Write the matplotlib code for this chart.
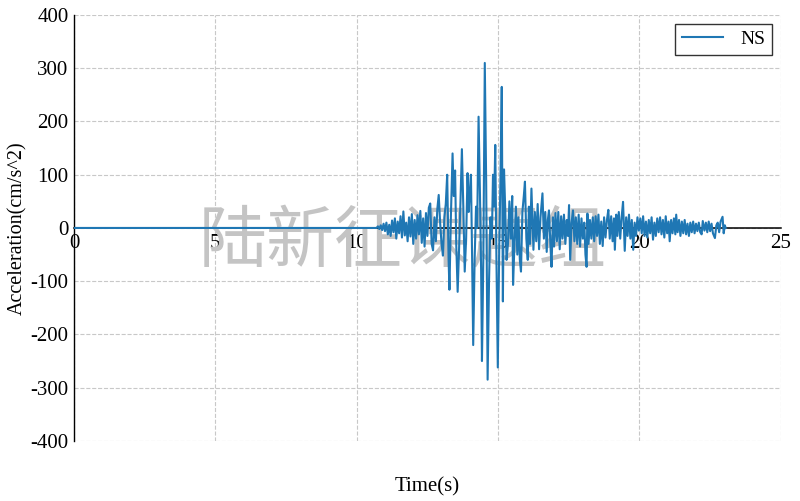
import numpy as np
import matplotlib
matplotlib.use("Agg")
import matplotlib.pyplot as plt

plt.rcParams['font.family'] = ['Liberation Serif', 'DejaVu Serif']
plt.rcParams['axes.unicode_minus'] = False

# acceleration record (time in s, acc in cm/s^2)
time_s = [0.0, 10.70,
    10.75, 10.80, 10.85, 10.90, 10.95, 11.00, 11.05, 11.10, 11.15, 11.20,
    11.25, 11.30, 11.35, 11.40, 11.45, 11.50, 11.55, 11.60, 11.65, 11.70,
    11.75, 11.80, 11.85, 11.90, 11.95, 12.00, 12.05, 12.10, 12.15, 12.20,
    12.25, 12.30, 12.35, 12.40, 12.45, 12.50, 12.55, 12.60, 12.65, 12.70,
    12.75, 12.80, 12.85, 12.90, 12.95, 13.00, 13.05, 13.10, 13.15, 13.20,
    13.25, 13.28, 13.33, 13.39, 13.43, 13.48, 13.52, 13.57, 13.62, 13.67,
    13.72, 13.77, 13.82, 13.87, 13.92, 13.96, 14.00, 14.04, 14.08, 14.12,
    14.17, 14.22, 14.26, 14.31, 14.36, 14.40, 14.43, 14.48, 14.53, 14.58,
    14.63, 14.68, 14.73, 14.78, 14.82, 14.86, 14.90, 14.94, 14.99, 15.04,
    15.08, 15.13, 15.17, 15.21, 15.25, 15.30, 15.35, 15.40, 15.45, 15.50,
    15.53, 15.58, 15.63, 15.68, 15.72, 15.77, 15.81, 15.86, 15.91, 15.95,
    16.00, 16.05, 16.09, 16.13, 16.18, 16.22, 16.25, 16.30, 16.35, 16.40,
    16.45, 16.50, 16.57, 16.62, 16.67, 16.72, 16.76, 16.80, 16.85, 16.89,
    16.94, 16.98, 17.03, 17.08, 17.13, 17.18, 17.23, 17.28, 17.33, 17.38,
    17.43, 17.47, 17.51, 17.55, 17.60, 17.65, 17.70, 17.75, 17.80, 17.85,
    17.90, 17.95, 18.00, 18.05, 18.09, 18.13, 18.16, 18.20, 18.25, 18.30,
    18.35, 18.40, 18.45, 18.50, 18.55, 18.60, 18.65, 18.70, 18.75, 18.80,
    18.85, 18.90, 18.95, 19.00, 19.05, 19.10, 19.13, 19.18, 19.22, 19.27,
    19.32, 19.37, 19.42, 19.46, 19.48, 19.53, 19.58, 19.63, 19.68, 19.73,
    19.78, 19.83, 19.88, 19.93, 19.98, 20.03, 20.08, 20.13, 20.18, 20.23,
    20.28, 20.33, 20.38, 20.43, 20.48, 20.53, 20.58, 20.63, 20.68, 20.73,
    20.78, 20.83, 20.88, 20.93, 20.98, 21.03, 21.07, 21.12, 21.17, 21.22,
    21.27, 21.30, 21.35, 21.40, 21.45, 21.50, 21.55, 21.60, 21.65, 21.70,
    21.75, 21.80, 21.85, 21.90, 21.95, 22.00, 22.05, 22.10, 22.15, 22.20,
    22.24, 22.30, 22.35, 22.40, 22.45, 22.50, 22.55, 22.60, 22.67, 22.72,
    22.77, 22.82, 22.87, 22.94, 22.98, 23.02, 23.05]

acc_ns = [0, 0,
    3, -2, 5, -4, 8, -6, 10, -12, 6, -15,
    14, -8, 18, -20, 12, -10, 22, -18, 31, -14,
    10, -25, 20, -16, 26, -30, 15, -20, 24, -12,
    32, -28, 18, -35, 28, -15, 38, 46, -30, -42,
    20, -25, 35, 62, 10, -30, -52, 20, 45, 100,
    -60, -116, 20, 140, 60, 108, -30, -120, -40, 50,
    148, 40, -82, -20, 103, 30, 70, 100, -50, -220,
    -60, 40, 0, 209, 60, -80, -250, -50, 310, 80,
    -285, -100, 20, -20, 100, 40, 156, -50, -262, -40,
    80, 265, -138, 110, 40, -60, -30, 50, -20, 60,
    -107, -30, 40, -50, 20, -60, -82, 30, 60, 87,
    -20, -60, 40, -30, 74, 10, -41, 30, -25, 45,
    -40, 20, 65, -20, 30, -45, 15, 33, -30, -73,
    20, -35, 28, -25, 30, -40, 22, -20, 25, -30,
    15, -15, 43, -60, 10, 33, -25, 20, -30, 25,
    -35, 18, -20, 10, -50, -73, 27, -30, 15, -20,
    20, -25, 22, -15, 25, -30, 12, -34, 20, -18,
    15, 34, -20, 22, -25, 18, -41, 25, -15, 30,
    -20, 20, 49, -10, -43, 20, -15, 25, -20, 15,
    -41, 10, -15, 20, -5, 18, -10, 22, -15, 12,
    -18, 15, -10, 20, -22, 10, -15, 18, -8, 20,
    -12, 15, -18, 22, -10, 12, -25, 15, -10, 18,
    -12, 25, -8, 15, -15, 12, -10, 15, -12, 8,
    -15, 10, -8, 12, -10, 8, -6, 10, -8, -12,
    13, -5, 10, -8, 12, -6, 8, -10, -19, 5,
    10, -8, 12, 21, -10, 5, 0]

x_ticks = [0, 5, 10, 15, 20, 25]
y_ticks = [-400, -300, -200, -100, 0, 100, 200, 300, 400]

fig = plt.figure(figsize=(8.0, 5.01), dpi=100)
ax = fig.add_axes([0.0925, 0.12, 0.8835, 0.85])

ax.plot(time_s, acc_ns, color='#1f77b4', lw=1.5, label='NS', zorder=3)

ax.set_xlim(0, 25)
ax.set_ylim(-400, 400)
ax.set_xticks(x_ticks)
ax.set_yticks(y_ticks)
ax.tick_params(labelsize=15, length=0, pad=4)

ax.spines['top'].set_visible(False)
ax.spines['right'].set_visible(False)
ax.spines['bottom'].set_position(('data', 0))
ax.spines['bottom'].set_linewidth(1.1)
ax.spines['left'].set_linewidth(1.0)

ax.grid(True, linestyle='--', color='#c8c8c8', lw=0.8, zorder=0)
ax.set_axisbelow(True)

ax.set_ylabel('Acceleration(cm/s^2)', fontsize=14.5)
ax.yaxis.set_label_coords(-0.066, 0.5)
ax.set_xlabel('Time(s)', fontsize=15)
ax.xaxis.set_label_coords(0.5, -0.085)

leg = ax.legend(loc='upper right', fontsize=14, frameon=True, fancybox=False,
                handlelength=2.1, handletextpad=0.9, borderpad=0.35,
                borderaxespad=0, bbox_to_anchor=(0.9875, 0.98))
leg.get_frame().set_edgecolor('black')
leg.get_frame().set_linewidth(1.0)

# watermark
ax.text(0.465, 0.465, '陆新征课题组', transform=ax.transAxes, fontsize=49,
        color='#c4c4c4', ha='center', va='center', fontweight='light',
        family=['Noto Sans CJK SC', 'DejaVu Sans'], zorder=1)

fig.savefig('out.png', dpi=100)
